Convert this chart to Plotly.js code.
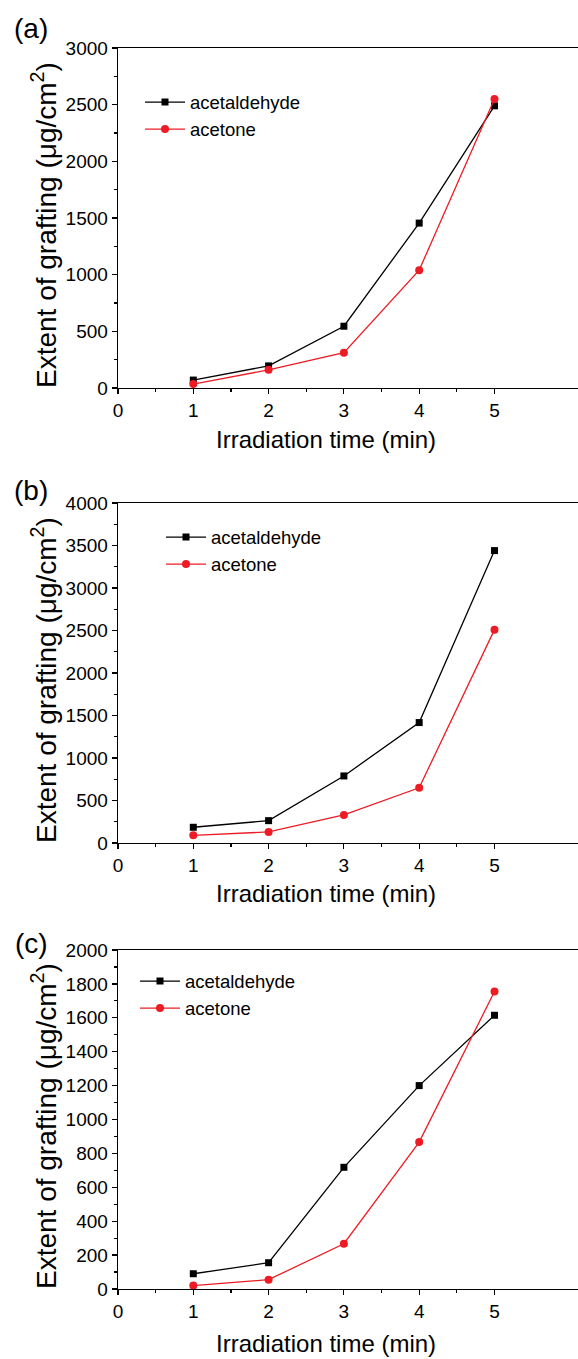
<!DOCTYPE html>
<html>
<head>
<meta charset="utf-8">
<script src="https://cdn.plot.ly/plotly-3.0.1.min.js"></script>
<style>html,body{margin:0;padding:0;background:#fff;}#chart{width:578px;height:1359px;}</style>
</head>
<body>
<div id="chart"></div>
<script>
// Data
const times = [1, 2, 3, 4, 5];
const aAcetaldehyde = [70, 195, 545, 1455, 2490];
const aAcetone = [35, 160, 312, 1040, 2550];
const bAcetaldehyde = [185, 263, 789, 1417, 3440];
const bAcetone = [90, 130, 330, 650, 2510];
const cAcetaldehyde = [90, 155, 718, 1200, 1615];
const cAcetone = [20, 55, 267, 867, 1755];
const seriesNames = ['acetaldehyde', 'acetone'];
const panelLabels = ['(a)', '(b)', '(c)'];
const xTickVals = [0, 1, 2, 3, 4, 5];
const xMinorVals = [0.5, 1.5, 2.5, 3.5, 4.5];
const xTitle = 'Irradiation time (min)';
const yTitle = 'Extent of grafting (\u03bcg/cm<sup>2</sup>)';

const FONT = 'Liberation Sans, Arial, sans-serif';
const BLACK = '#000000';
const RED = '#ed1c24';
const H = 1359;
const L = 118, PW = 460;

function blackTrace(y, xa, ya, lg) {
  return {x: times, y: y, xaxis: xa, yaxis: ya, legend: lg, name: seriesNames[0],
    mode: 'lines+markers', line: {color: BLACK, width: 1.3},
    marker: {symbol: 'square', size: 7, color: BLACK}};
}
function redTrace(y, xa, ya, lg) {
  return {x: times, y: y, xaxis: xa, yaxis: ya, legend: lg, name: seriesNames[1],
    mode: 'lines+markers', line: {color: RED, width: 1.3},
    marker: {symbol: 'circle', size: 8, color: RED}};
}

const data = [
  blackTrace(aAcetaldehyde, 'x', 'y', 'legend'),
  redTrace(aAcetone, 'x', 'y', 'legend'),
  blackTrace(bAcetaldehyde, 'x2', 'y2', 'legend2'),
  redTrace(bAcetone, 'x2', 'y2', 'legend2'),
  blackTrace(cAcetaldehyde, 'x3', 'y3', 'legend3'),
  redTrace(cAcetone, 'x3', 'y3', 'legend3')
];

function py(px) { return 1 - px / H; }
function pxx(px) { return (px - L) / PW; }

function xAxis(anchor) {
  return {anchor: anchor, domain: [0, 1], range: [0, 6.109], showgrid: false, zeroline: false,
    showline: true, linecolor: BLACK, linewidth: 1.3, mirror: true,
    ticks: 'outside', ticklen: 5, tickwidth: 1.2, tickcolor: BLACK,
    tickmode: 'array', tickvals: xTickVals,
    minor: {tickmode: 'array', tickvals: xMinorVals, ticks: 'outside', ticklen: 3, tickwidth: 1.2, tickcolor: BLACK},
    tickfont: {family: FONT, size: 19, color: BLACK},
    automargin: false, fixedrange: true};
}
function yAxis(anchor, top, bottom, maxv, dt, mdt) {
  return {anchor: anchor, domain: [py(bottom), py(top)], range: [0, maxv], showgrid: false, zeroline: false,
    showline: true, linecolor: BLACK, linewidth: 1.3, mirror: false,
    ticks: 'outside', ticklen: 5, tickwidth: 1.2, tickcolor: BLACK, dtick: dt, tick0: 0,
    minor: {dtick: mdt, ticks: 'outside', ticklen: 3, tickwidth: 1.2, tickcolor: BLACK},
    tickfont: {family: FONT, size: 19, color: BLACK},
    automargin: false, fixedrange: true};
}
function legend(xpx, ypx) {
  return {x: pxx(xpx), y: py(ypx), xanchor: 'left', yanchor: 'middle',
    bgcolor: 'rgba(0,0,0,0)', borderwidth: 0, font: {family: FONT, size: 18.5, color: BLACK},
    itemwidth: 40, tracegroupgap: 0};
}

const panels = [
  {top: 48, bottom: 388, labelY: 29, xTitleY: 440},
  {top: 503, bottom: 843, labelY: 491, xTitleY: 893},
  {top: 950, bottom: 1289, labelY: 943, xTitleY: 1343}
];

const annotations = [];
panels.forEach((p, i) => {
  annotations.push({text: panelLabels[i], xref: 'paper', yref: 'paper', x: pxx(31), y: py(p.labelY),
    xanchor: 'center', yanchor: 'middle', showarrow: false,
    font: {family: FONT, size: 28, color: BLACK}});
  annotations.push({text: xTitle, xref: 'paper', yref: 'paper', x: pxx(326), y: py(p.xTitleY),
    xanchor: 'center', yanchor: 'middle', showarrow: false,
    font: {family: FONT, size: 24, color: BLACK}});
  annotations.push({text: yTitle, xref: 'paper', yref: 'paper', x: pxx(44), y: py(p.bottom - 163),
    xanchor: 'center', yanchor: 'middle', showarrow: false, textangle: -90,
    font: {family: FONT, size: 28, color: BLACK}});
});

const layout = {
  width: 578, height: H,
  margin: {l: L, r: 0, t: 0, b: 0},
  paper_bgcolor: '#ffffff', plot_bgcolor: '#ffffff',
  showlegend: true,
  xaxis: xAxis('y'), yaxis: yAxis('x', panels[0].top, panels[0].bottom, 3000, 500, 250),
  xaxis2: xAxis('y2'), yaxis2: yAxis('x2', panels[1].top, panels[1].bottom, 4000, 500, 250),
  xaxis3: xAxis('y3'), yaxis3: yAxis('x3', panels[2].top, panels[2].bottom, 2000, 200, 100),
  legend: legend(140, 116),
  legend2: legend(161, 551),
  legend3: legend(135, 995),
  annotations: annotations
};

Plotly.newPlot('chart', data, layout, {displayModeBar: false, staticPlot: true});
</script>
</body>
</html>
